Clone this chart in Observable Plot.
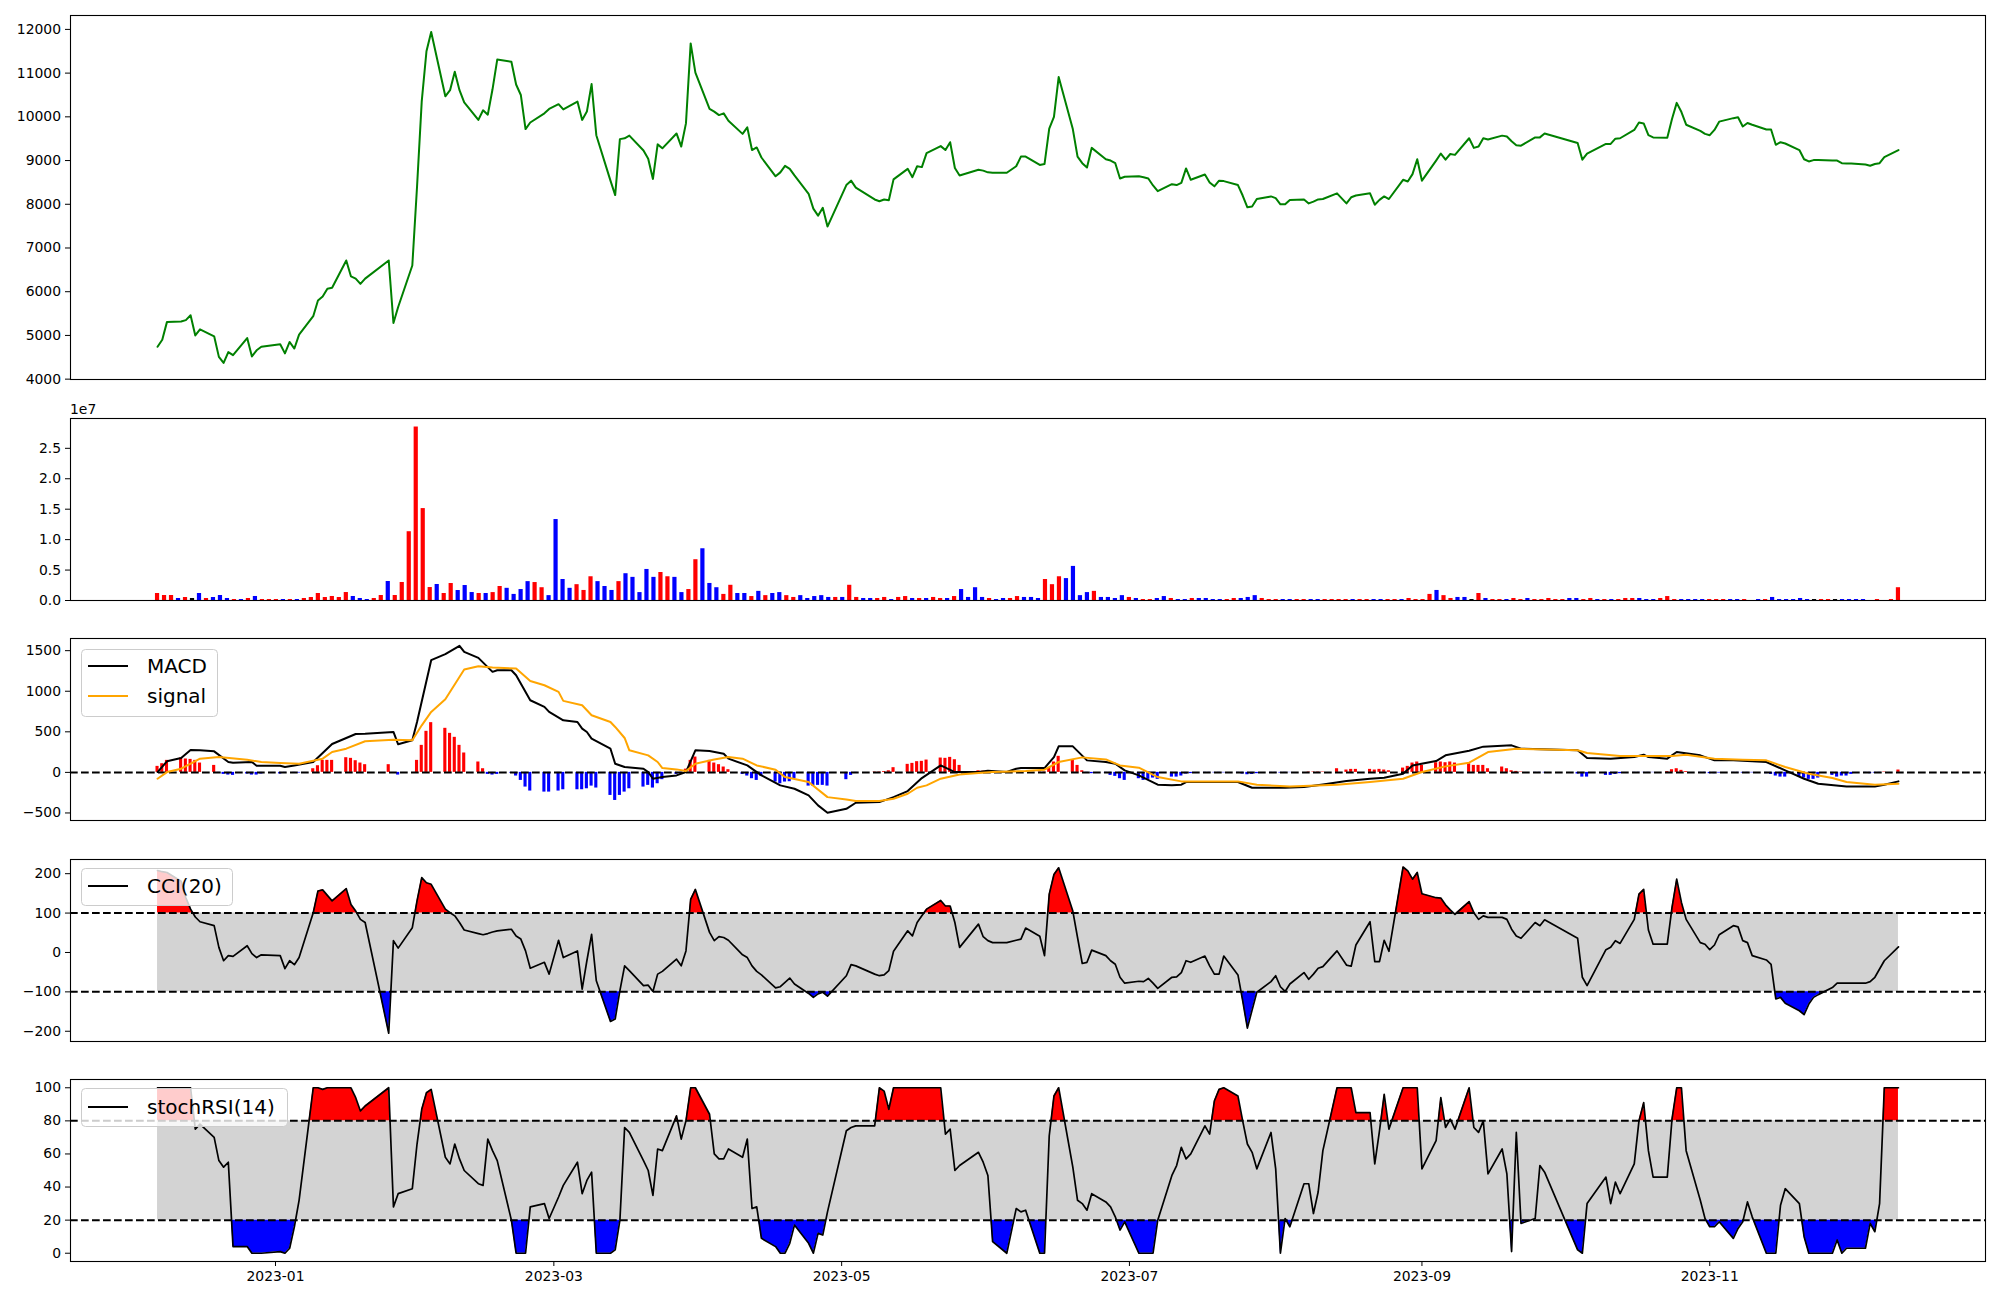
<!DOCTYPE html>
<html>
<head>
<meta charset="utf-8">
<script src="https://cdn.jsdelivr.net/npm/d3@7"></script>
<script src="https://cdn.jsdelivr.net/npm/@observablehq/plot@0.6"></script>
<style>
  html, body { margin: 0; padding: 0; background: #ffffff; }
  #chart { position: relative; width: 2000px; height: 1300px; font-family: "DejaVu Sans", sans-serif; }
  .panel { position: absolute; left: 0; }
  #overlay { position: absolute; left: 0; top: 0; pointer-events: none; }
</style>
</head>
<body>
<div id="chart"></div>
<script>
// ---------------- DATA ----------------
const tradingDays = [
  "2022-12: 7 8 9 12 13 14 15 16 19 20 21 22 23 26 27 28 29",
  "2023-01: 2 3 4 5 6 9 10 11 12 13 16 17 18 19 20 25 26 27 30 31",
  "2023-02: 1 2 3 6 7 8 9 10 13 14 15 16 17 20 21 22 23 24 27 28",
  "2023-03: 2 3 6 7 8 9 10 13 14 15 16 17 20 21 22 23 24 27 28 29 30 31",
  "2023-04: 3 4 5 6 7 10 11 12 13 14 17 18 19 20 21 24 25 26 27 28",
  "2023-05: 2 3 4 8 9 10 11 12 15 16 17 18 19 22 23 24 25 26 30 31",
  "2023-06: 1 2 5 7 8 9 12 13 14 15 16 19 20 21 22 23 26 27 28 29 30",
  "2023-07: 3 4 5 6 7 10 11 12 13 14 17 18 19 20 21 24 25 26 27 28 31",
  "2023-08: 1 2 3 4 7 8 9 10 11 14 16 17 18 21 22 23 24 25 28 29 30 31",
  "2023-09: 1 4 5 6 7 8 11 12 13 14 15 18 19 20 21 22 25 26 27",
  "2023-10: 4 5 6 10 11 12 13 16 17 18 19 20 23 24 25 26 27 30 31",
  "2023-11: 1 2 3 6 7 8 9 10 13 14 15 16 17 20 21 22 23 24 27 28 29 30",
  "2023-12: 1 4 5 6 7 8 11"
];

const closePrice = [
  4740, 4900, 5310, 5320, 5350, 5460, 5000, 5140, 4980, 4510, 4370, 4620, 4550, 4940, 4520, 4660, 4740,
  4800, 4590, 4850, 4700, 5020, 5440, 5800, 5890, 6070, 6090, 6715, 6350, 6300, 6180, 6300, 6715, 5285, 5650, 6600, 8400,
  10360, 11500, 11940, 10470, 10610, 11030, 10610, 10330, 9930, 10150, 10050, 10630, 11310, 11260, 10740, 10500, 9720, 9870, 10080, 10180,
  10290, 10170, 10350, 9930, 10120, 10750, 9580, 8540, 8210, 9490, 9510, 9570, 9230, 9040, 8580, 9370, 9280, 9620, 9320, 9850, 11680, 11010,
  10180, 10120, 10040, 10080, 9910, 9610, 9760, 9240, 9300, 9070, 8640, 8730, 8880, 8810, 8660, 8240, 7900, 7740, 7920, 7490,
  8440, 8540, 8380, 8110, 8070, 8110, 8090, 8570, 8810, 8620, 8870, 8850, 9170, 9330, 9240, 9420, 8830, 8660, 8790, 8770,
  8730, 8720, 8720, 8870, 9090, 9090, 8900, 8920, 9730, 10000, 10910, 9720, 9090, 8940, 8840, 9290, 9030, 9000, 8940, 8590, 8630,
  8640, 8620, 8590, 8430, 8300, 8460, 8440, 8490, 8820, 8560, 8680, 8500, 8410, 8540, 8530, 8440, 8200, 7930, 7950, 8120, 8180,
  8140, 8000, 8000, 8100, 8110, 8020, 8060, 8110, 8120, 8250, 8020, 8160, 8200, 8250, 7990, 8100, 8180, 8120, 8560, 8520, 8690, 9030,
  8540, 9000, 9160, 9020, 9150, 9130, 9510, 9290, 9320, 9510, 9480, 9570, 9550, 9440, 9350, 9340, 9530, 9530, 9620,
  9400, 9020, 9160, 9380, 9380, 9500, 9510, 9700, 9870, 9850, 9580, 9530, 9520, 9950, 10320, 10110, 9820, 9680, 9610,
  9580, 9700, 9890, 9970, 9990, 9780, 9860, 9820, 9710, 9710, 9360, 9420, 9390, 9240, 9030, 8980, 9010, 9010, 9000, 9000, 8940, 8930,
  8930, 8910, 8880, 8920, 8940, 9080, 9240
];

// volume in millions of shares
const volumeM = [
  1.15, 0.82, 0.82, 0.33, 0.49, 0.33, 1.15, 0.33, 0.49, 0.82, 0.33, 0.16, 0.16, 0.33, 0.66, 0.16, 0.16,
  0.16, 0.16, 0.16, 0.16, 0.33, 0.49, 1.15, 0.49, 0.66, 0.49, 1.31, 0.66, 0.33, 0.16, 0.33, 0.82, 3.12, 0.82, 2.96, 11.3,
  28.5, 15.1, 2.13, 2.63, 1.15, 2.79, 1.64, 2.46, 1.31, 1.15, 1.15, 1.3, 2.3, 2.0, 1.0, 1.8, 3.1, 2.95, 2.1, 0.8,
  13.3, 3.45, 2.0, 2.6, 1.65, 3.9, 3.1, 2.3, 1.65, 3.1, 4.4, 3.8, 1.3, 5.1, 3.8, 4.6, 3.9, 3.8, 1.3, 1.8, 6.7, 8.5,
  2.8, 2.1, 1.0, 2.5, 1.15, 1.15, 0.65, 1.5, 0.8, 1.15, 1.3, 0.8, 0.5, 0.8, 0.33, 0.65, 0.8, 0.5, 0.5, 0.5,
  2.5, 0.5, 0.33, 0.33, 0.33, 0.5, 0.16, 0.5, 0.65, 0.33, 0.33, 0.33, 0.5, 0.33, 0.33, 0.65, 1.8, 0.5, 2.1, 0.5,
  0.33, 0.16, 0.33, 0.33, 0.65, 0.5, 0.5, 0.33, 3.45, 2.6, 3.9, 3.6, 5.6, 0.8, 1.3, 1.5, 0.5, 0.5, 0.33, 0.8, 0.5,
  0.33, 0.16, 0.16, 0.33, 0.65, 0.33, 0.16, 0.16, 0.33, 0.33, 0.33, 0.16, 0.16, 0.16, 0.33, 0.33, 0.5, 0.8, 0.33, 0.16, 0.16,
  0.16, 0.16, 0.16, 0.16, 0.16, 0.16, 0.16, 0.16, 0.16, 0.16, 0.16, 0.16, 0.16, 0.16, 0.16, 0.16, 0.16, 0.16, 0.33, 0.16, 0.16, 1.0,
  1.65, 0.8, 0.33, 0.5, 0.5, 0.16, 1.15, 0.33, 0.16, 0.16, 0.16, 0.33, 0.16, 0.33, 0.16, 0.16, 0.33, 0.16, 0.16,
  0.33, 0.33, 0.16, 0.33, 0.16, 0.16, 0.16, 0.16, 0.33, 0.33, 0.33, 0.16, 0.16, 0.33, 0.65, 0.16, 0.16, 0.16, 0.16,
  0.16, 0.16, 0.16, 0.16, 0.16, 0.16, 0.16, 0, 0.16, 0.16, 0.5, 0.16, 0.16, 0.16, 0.33, 0.16, 0.16, 0.16, 0.16, 0.16, 0.16, 0.16,
  0.16, 0.16, 0, 0.16, 0, 0.16, 2.1
];

// candle direction per day: u = up (close > open), d = down, f = flat
const candleDir =
  "uuudufdudd" + "dududuuudu" + "duuuuuuudd" + "duuduuuuuu" + "duuddduduu" +
  "dddduudddd" + "uuuddduddd" + "dduudduudd" + "duuddududd" + "uudddddudu" +
  "udduuduudu" + "duududdddu" + "dduuddduuu" + "dddduddddu" + "duudduddud" +
  "ddduuddduu" + "udduudduuu" + "uduudduudu" + "uuuduuddfu" + "duuduuduuu" +
  "uudduududu" + "uuddduuudd" + "dduuuddufd" + "uddddddfuu" + "fddddfufuu";

// MACD histogram, one bar per trading day
const macdHist = [
  74, 107, 148, 177, 165, 160, 148, 115, 86, -10,
  -25, -33, -37, -20, -33, -33, -20, -20, -12, 0,
  -12, -8, 45, 82, 148, 148, 148, 181, 173, 144,
  115, 95, 95, 0, -33, 0, 148, 333, 506, 613,
  543, 481, 432, 333, 239, 128, 45, -25, -33, -25,
  -10, -45, -99, -181, -230, -243, -243, -230, -214, -214,
  -214, -202, -169, -193, -284, -346, -284, -243, -202, -181,
  -160, -193, -140, -90, -25, -20, 40, 148, 189, 148,
  115, 95, 66, 33, -25, -45, -78, -99, -50, -119,
  -140, -119, -115, -78, -169, -169, -160, -160, -169, -90,
  -37, -12, 5, 5, 10, 20, 58, 99, 111, 132,
  136, 152, 177, 173, 185, 156, 86, 20, 15, 12,
  10, 5, 5, 5, 5, 5, 5, 60, 128, 198,
  148, 86, 20, -8, -16, -10, -37, -49, -78, -99,
  -78, -99, -86, -70, -86, -58, -58, -45, -20, -15,
  -5, -5, -5, -5, -5, -10, -20, -29, -25, -16,
  -8, -8, -8, -5, -3, 0, 5, 5, 5, 5,
  45, 29, 37, 37, 37, 29, 37, 29, 20, 53,
  74, 115, 128, 86, 119, 128, 119, 128, 115, 107,
  86, 86, 86, 45, 66, 45, 20, 12, 5, -5,
  -5, -5, -20, -58, -58, -37, -37, -25, -16, -8,
  -3, -3, -3, -3, 10, 33, 45, 25, 10, -5,
  -10, -16, -16, -8, -8, -5, -8, -5, -5, -16,
  -25, -45, -58, -58, -58, -70, -86, -86, -70, -37,
  -58, -45, -45, -25, -8, -16, -8, -3, 5, 29
];

// MACD and signal lines: [trading-day index, value] at the vertices
const macdLine = [
  [0,4],[2,136],[3,177],[5,276],[7,272],[8,259],[11,128],[12,119],[14,128],[15,82],[17,82],[18,66],[20,86],
  [22,128],[26,350],[29,473],[31,477],[33,498],[34,346],[35,395],[36,621],[39,1383],[40,1457],[43,1560],
  [44,1486],[45,1411],[48,1239],[49,1259],[50,1259],[51,1197],[54,889],[55,807],[56,745],[58,642],[59,621],
  [60,539],[61,498],[62,416],[64,292],[65,107],[67,66],[69,45],[70,4],[71,-78],[73,-58],[74,-37],[76,4],
  [78,272],[79,263],[82,230],[83,169],[85,86],[88,-37],[90,-160],[93,-202],[94,-284],[96,-407],[98,-498],
  [99,-449],[101,-374],[103,-366],[106,-305],[107,-230],[110,-70],[112,86],[115,4],[117,4],[119,20],[121,4],
  [122,45],[123,53],[126,53],[128,189],[129,321],[130,321],[133,148],[135,128],[137,107],[139,25],[140,-37],
  [144,-152],[145,-160],[147,-152],[148,-119],[155,-119],[158,-189],[163,-189],[165,-181],[169,-148],
  [171,-107],[174,-78],[177,-66],[179,-16],[181,86],[184,140],[186,210],[189,267],[192,317],[196,333],
  [198,292],[202,272],[204,177],[206,169],[209,189],[211,218],[212,189],[214,169],[216,251],[219,210],
  [222,148],[224,148],[229,128],[233,25],[235,-78],[238,-140],[242,-173],[246,-173],[248,-152],[249,-111]
];
const signalLine = [
  [0,-78],[2,4],[3,45],[7,169],[9,189],[13,156],[16,128],[17,115],[21,107],[24,169],[26,251],[27,292],
  [31,383],[33,403],[35,395],[37,580],[39,745],[40,901],[44,1267],[45,1309],[48,1292],[51,1280],[54,1127],
  [55,1074],[57,992],[58,881],[60,827],[62,704],[64,621],[65,560],[67,424],[68,272],[70,210],[72,128],
  [73,53],[74,37],[76,16],[78,107],[80,160],[83,189],[84,169],[87,86],[89,33],[91,-58],[94,-119],[98,-305],
  [99,-333],[101,-354],[103,-354],[106,-325],[107,-263],[109,-189],[111,-160],[112,-78],[116,-25],[117,-8],
  [120,4],[124,16],[126,33],[129,128],[132,185],[135,160],[138,86],[140,58],[144,-58],[147,-111],[155,-111],
  [159,-152],[164,-173],[170,-152],[174,-119],[179,-78],[183,4],[186,74],[189,119],[193,251],[197,292],
  [202,272],[204,239],[208,202],[215,202],[218,218],[222,169],[226,156],[229,148],[233,66],[236,-16],
  [239,-70],[242,-119],[246,-152],[249,-140]
];

const cci20 = [
  208, 205, 203, 181, 139, 110, 90, 78, 68, 13,
  -21, -8, -10, 17, -3, -13, -6, -8, -41, -21,
  -31, -13, 101, 156, 159, 145, 131, 162, 122, 105,
  84, 76, -205, 30, 11, 63, 131, 190, 177, 173,
  110, 101, 93, 76, 57, 48, 45, 48, 52, 55,
  59, 42, 34, 4, -40, -25, -55, 31, -13, 4,
  -93, -21, 46, -72, -175, -169, -97, -34, -46, -84,
  -83, -99, -55, -48, -17, -34, 4, 135, 160, 51,
  30, 40, 38, 31, -6, -13, -34, -48, -57, -90,
  -87, -76, -65, -80, -104, -114, -105, -101, -111, -59,
  -31, -34, -55, -59, -57, -46, 3, 55, 42, 76,
  93, 110, 132, 118, 118, 76, 13, 72, 40, 30,
  25, 25, 31, 34, 62, 41, -8, 148, 198, 215,
  105, 38, -28, -25, 6, -8, -21, -30, -63, -78,
  -73, -74, -66, -78, -91, -63, -62, -51, -21, -25,
  -9, -34, -55, -55, -9, -57, -122, -192, -146, -101,
  -74, -59, -87, -99, -80, -51, -68, -55, -40, -36,
  4, -32, -35, 19, 78, -23, -23, 31, 3, 217,
  207, 186, 203, 149, 139, 138, 121, 108, 97, 129,
  101, 84, 93, 89, 89, 84, 59, 42, 36, 76,
  68, 83, 36, -63, -84, 7, 13, 30, 23, 84,
  148, 160, 57, 21, 21, 114, 186, 127, 84, 25,
  21, 7, 19, 45, 68, 65, 30, 25, -8, -19,
  -30, -118, -114, -129, -148, -158, -131, -114, -107, -89,
  -78, -78, -78, -78, -78, -74, -63, -42, -21, 14
];

const stochRsi14 = [
  100, 100, 100, 100, 100, 100, 75, 78, 70, 56,
  52, 55, 4, 4, 0, 0, 0, 1, 0, 3,
  16, 32, 100, 100, 99, 100, 100, 100, 100, 94,
  86, 89, 100, 28, 36, 39, 66, 87, 97, 99,
  58, 54, 66, 57, 50, 42, 41, 69, 62, 56,
  20, 0, 0, 0, 28, 30, 21, 34, 41, 55,
  36, 44, 49, 0, 0, 2, 20, 76, 73, 56,
  50, 35, 63, 62, 83, 69, 80, 100, 100, 84,
  60, 57, 57, 63, 58, 69, 27, 28, 9, 4,
  0, 0, 6, 17, 6, 0, 12, 11, 25, 74,
  76, 77, 77, 100, 98, 87, 100, 100, 100, 100,
  100, 100, 100, 72, 75, 50, 53, 61, 55, 47,
  7, 0, 27, 25, 26, 0, 0, 71, 95, 100,
  52, 32, 30, 26, 36, 31, 28, 22, 14, 19,
  0, 0, 0, 0, 20, 47, 53, 64, 57, 60,
  77, 72, 92, 99, 100, 95, 80, 66, 61, 51,
  73, 51, 0, 21, 16, 42, 42, 24, 37, 62,
  100, 100, 100, 85, 85, 54, 74, 96, 75, 100,
  100, 100, 100, 51, 68, 94, 76, 81, 75, 100,
  76, 73, 80, 48, 63, 48, 1, 73, 18, 21,
  53, 49, 2, 0, 30, 46, 30, 43, 36, 54,
  80, 91, 62, 46, 46, 81, 100, 100, 62, 32,
  21, 16, 16, 19, 9, 15, 19, 31, 22, 0,
  0, 0, 29, 39, 30, 10, 0, 0, 0, 0,
  8, 0, 3, 3, 3, 18, 13, 30, 100, 100
];

const xTickDates = ["2023-01-01", "2023-03-01", "2023-05-01", "2023-07-01", "2023-09-01", "2023-11-01"];
const priceTicks = [4000, 5000, 6000, 7000, 8000, 9000, 10000, 11000, 12000];
const volumeTicks = [0, 0.5e7, 1.0e7, 1.5e7, 2.0e7, 2.5e7];
const macdTicks = [-500, 0, 500, 1000, 1500];
const cciTicks = [-200, -100, 0, 100, 200];
const stochTicks = [0, 20, 40, 60, 80, 100];
const cciBands = [100, -100];
const stochBands = [80, 20];

// ---------------- BUILD ----------------
const dates = tradingDays.flatMap(s => {
  const [ym, days] = s.split(": ");
  const [y, m] = ym.split("-").map(Number);
  return days.trim().split(/\s+/).map(d => new Date(Date.UTC(y, m - 1, +d)));
});
const DAY = 864e5;
const span = dates[dates.length - 1] - dates[0];
const xDomain = [new Date(+dates[0] - 0.05 * span), new Date(+dates[dates.length - 1] + 0.05 * span)];
const nVol = volumeM.length;
const volDomain = [-(nVol - 1) * 0.05, (nVol - 1) * 1.05];

const priceData = dates.map((date, i) => ({date, v: closePrice[i]}));
const dirColor = {u: "#ff0000", d: "#0000ff", f: "#000000"};
const volData = volumeM.map((v, i) => ({i, v: v * 1e6, c: dirColor[candleDir[i]]}));
const histData = macdHist.map((v, i) => ({date: dates[i], v, c: v >= 0 ? "#ff0000" : "#0000ff"}));
const macdData = macdLine.map(([i, v]) => ({date: dates[i], v}));
const signalData = signalLine.map(([i, v]) => ({date: dates[i], v}));
const cciData = dates.map((date, i) => ({date, v: cci20[i]}));
const stochData = dates.map((date, i) => ({date, v: stochRsi14[i]}));

// insert threshold crossings so the coloured fills meet the band lines exactly
function withCrossings(rows, thresholds) {
  let out = rows;
  for (const t of thresholds) {
    const next = [];
    for (let k = 0; k < out.length; k++) {
      next.push(out[k]);
      if (k < out.length - 1) {
        const a = out[k], b = out[k + 1];
        if ((a.v - t) * (b.v - t) < 0) {
          const f = (t - a.v) / (b.v - a.v);
          next.push({date: new Date(+a.date + f * (b.date - a.date)), v: t});
        }
      }
    }
    out = next;
  }
  return out;
}

const W = 2000, ML = 70, MR = 15;
const baseStyle = {fontFamily: "DejaVu Sans, sans-serif", fontSize: "13.9px", color: "#000", background: "transparent", overflow: "visible"};
const chart = document.getElementById("chart");
const minusFmt = d => String(d).replace("-", "\u2212");

function addPanel(top, marginTop, innerH, marginBottom, opts) {
  const svg = Plot.plot({
    width: W, height: marginTop + innerH + marginBottom,
    marginTop, marginBottom, marginLeft: ML, marginRight: MR,
    style: baseStyle,
    ...opts
  });
  const div = document.createElement("div");
  div.className = "panel";
  div.style.top = top + "px";
  div.appendChild(svg);
  chart.appendChild(div);
}

const yAxisCommon = {tickSize: 5, tickPadding: 4.5, label: null};
const dash = "7.7,3.3";

// Panel 1: price
addPanel(0, 15, 364, 6, {
  x: {type: "utc", domain: xDomain, axis: null},
  y: {domain: [3992, 12318], ticks: priceTicks, tickFormat: d => String(d), ...yAxisCommon},
  marks: [
    Plot.lineY(priceData, {x: "date", y: "v", stroke: "#008000", strokeWidth: 2}),
    Plot.frame({stroke: "#000", strokeWidth: 1.1})
  ]
});

// Panel 2: volume (plotted by bar index)
addPanel(398, 20, 182, 6, {
  x: {type: "linear", domain: volDomain, axis: null},
  y: {domain: [0, 2.99e7], ticks: volumeTicks, tickFormat: d => (d / 1e7).toFixed(1), ...yAxisCommon},
  color: {type: "identity"},
  marks: [
    Plot.rectY(volData, {x1: d => d.i - 0.3, x2: d => d.i + 0.3, y1: () => 0, y2: "v", fill: "c"}),
    Plot.frame({stroke: "#000", strokeWidth: 1.1})
  ]
});

// Panel 3: MACD
addPanel(618, 20, 182, 6, {
  x: {type: "utc", domain: xDomain, axis: null},
  y: {domain: [-593, 1650], ticks: macdTicks, tickFormat: minusFmt, ...yAxisCommon},
  color: {type: "identity"},
  marks: [
    Plot.rectY(histData, {x1: d => new Date(+d.date - 0.33 * DAY), x2: d => new Date(+d.date + 0.33 * DAY), y1: () => 0, y2: "v", fill: "c"}),
    Plot.ruleY([0], {stroke: "#000", strokeWidth: 2, strokeDasharray: dash}),
    Plot.lineY(macdData, {x: "date", y: "v", stroke: "#000", strokeWidth: 2}),
    Plot.lineY(signalData, {x: "date", y: "v", stroke: "#ffa500", strokeWidth: 2}),
    Plot.frame({stroke: "#000", strokeWidth: 1.1})
  ]
});

// Panel 4: CCI(20)
const cciAug = withCrossings(cciData, cciBands);
addPanel(839, 20, 182, 6, {
  x: {type: "utc", domain: xDomain, axis: null},
  y: {domain: [-226, 236], ticks: cciTicks, tickFormat: minusFmt, ...yAxisCommon},
  marks: [
    Plot.areaY(cciData, {x: "date", y1: () => cciBands[1], y2: () => cciBands[0], fill: "#d3d3d3"}),
    Plot.areaY(cciAug, {x: "date", y1: () => cciBands[0], y2: d => Math.max(d.v, cciBands[0]), fill: "#ff0000"}),
    Plot.areaY(cciAug, {x: "date", y1: () => cciBands[1], y2: d => Math.min(d.v, cciBands[1]), fill: "#0000ff"}),
    Plot.lineY(cciData, {x: "date", y: "v", stroke: "#000", strokeWidth: 1.7}),
    Plot.ruleY(cciBands, {stroke: "#000", strokeWidth: 2, strokeDasharray: dash}),
    Plot.frame({stroke: "#000", strokeWidth: 1.1})
  ]
});

// Panel 5: stochRSI(14)
const stochAug = withCrossings(stochData, stochBands);
addPanel(1059, 20, 182, 39, {
  x: {type: "utc", domain: xDomain, ticks: xTickDates.map(s => new Date(s + "T00:00:00Z")),
      tickFormat: d3.utcFormat("%Y-%m"), tickSize: 5, tickPadding: 4.5, label: null},
  y: {domain: [-5, 105], ticks: stochTicks, tickFormat: d => String(d), ...yAxisCommon},
  marks: [
    Plot.areaY(stochData, {x: "date", y1: () => stochBands[1], y2: () => stochBands[0], fill: "#d3d3d3"}),
    Plot.areaY(stochAug, {x: "date", y1: () => stochBands[0], y2: d => Math.max(d.v, stochBands[0]), fill: "#ff0000"}),
    Plot.areaY(stochAug, {x: "date", y1: () => stochBands[1], y2: d => Math.min(d.v, stochBands[1]), fill: "#0000ff"}),
    Plot.lineY(stochData, {x: "date", y: "v", stroke: "#000", strokeWidth: 1.7}),
    Plot.ruleY(stochBands, {stroke: "#000", strokeWidth: 2, strokeDasharray: dash}),
    Plot.frame({stroke: "#000", strokeWidth: 1.1})
  ]
});

// ---------------- legends and offset label (overlay) ----------------
const overlay = d3.select(chart).append("svg")
  .attr("id", "overlay").attr("width", 2000).attr("height", 1300)
  .style("font-family", "DejaVu Sans, sans-serif");

overlay.append("text").attr("x", 70).attr("y", 414).attr("font-size", 13.9).text("1e7");

function legend(x, y, w, h, items) {
  const g = overlay.append("g");
  g.append("rect").attr("x", x + 0.5).attr("y", y + 0.5).attr("width", w).attr("height", h)
    .attr("rx", 4).attr("fill", "#ffffff").attr("fill-opacity", 0.8).attr("stroke", "#cccccc").attr("stroke-width", 1);
  items.forEach(([label, color, cy]) => {
    g.append("line").attr("x1", x + 7).attr("x2", x + 47).attr("y1", cy).attr("y2", cy)
      .attr("stroke", color).attr("stroke-width", 2);
    g.append("text").attr("x", x + 66).attr("y", cy).attr("dy", "0.36em").attr("font-size", 20).text(label);
  });
}
legend(81, 649, 136, 67, [["MACD", "#000", 666], ["signal", "#ffa500", 696]]);
legend(81, 868, 151, 37, [["CCI(20)", "#000", 886]]);
legend(81, 1088, 206, 38, [["stochRSI(14)", "#000", 1107]]);
</script>
</body>
</html>
